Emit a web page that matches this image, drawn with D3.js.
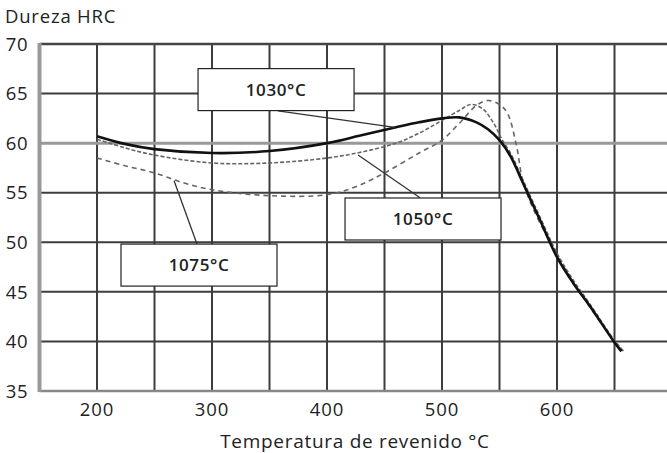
<!DOCTYPE html>
<html>
<head>
<meta charset="utf-8">
<script src="https://cdn.jsdelivr.net/npm/d3@7"></script>
<style>
  html, body { margin: 0; padding: 0; background: #fff; }
  svg { display: block; font-family: "Open Sans", "DejaVu Sans", sans-serif; }
</style>
</head>
<body>
<svg id="chart" width="667" height="453"></svg>
<script>
// temple curves: [temperature °C, HRC]
var curve1030 = [[200,60.7],[225,59.9],[250,59.4],[300,59.0],[350,59.2],[400,60.0],[430,60.8],[460,61.6],[480,62.1],[500,62.5],[515,62.6],[530,62.1],[540,61.4],[550,60.3],[560,58.6],[568,56.6],[577,54.3],[585,52.3],[600,48.5],[614,45.9],[629,43.5],[650,39.9],[656,39.0]];
var curve1050 = [[200,60.4],[225,59.5],[250,58.8],[300,58.0],[350,58.0],[400,58.5],[430,59.1],[460,60.0],[480,61.0],[500,62.3],[515,63.3],[525,63.9],[535,63.5],[545,62.0],[552,60.4],[560,58.9],[568,56.9],[577,54.6],[585,52.6],[600,48.9],[614,46.2],[629,43.7],[650,40.1],[658,39.0]];
var curve1075 = [[200,58.5],[225,57.7],[250,57.0],[275,56.0],[300,55.3],[350,54.7],[400,54.8],[425,55.6],[450,57.0],[480,59.0],[500,60.3],[515,62.0],[530,63.8],[540,64.3],[550,63.9],[557,63.0],[565,59.6],[570,56.3],[577,54.0],[585,52.0],[600,48.7],[614,46.0],[629,43.4],[650,40.0],[658,38.9]];

var xTicks = [200, 300, 400, 500, 600];
var yTicks = [35, 40, 45, 50, 55, 60, 65, 70];

// labels: text, box centre and leader line (in data units)
var labels = [
    { text: "1030°C", at: [355.7, 65.4], from: [357.4, 63.25], to: [459, 61.6] },
    { text: "1050°C", at: [483.5, 52.35], from: [480.9, 54.5], to: [427, 58.8] },
    { text: "1075°C", at: [288.7, 47.7], from: [287, 49.8], to: [267, 56.2] }
];

var svg = d3.select("#chart");

var x = d3.scaleLinear().domain([150, 700]).range([39.5, 672]);
var y = d3.scaleLinear().domain([35, 70]).range([391, 44]);

/* grid */
var grid = svg.append("g");
grid.selectAll("line.v")
    .data(d3.range(200, 701, 50))
    .enter().append("line")
    .attr("x1", function (d) { return x(d); })
    .attr("x2", function (d) { return x(d); })
    .attr("y1", y(70)).attr("y2", y(35))
    .attr("stroke", "#3d3d3d").attr("stroke-width", 2);

grid.selectAll("line.h")
    .data(d3.range(40, 70, 5))
    .enter().append("line")
    .attr("x1", x(150)).attr("x2", 667)
    .attr("y1", function (d) { return y(d); })
    .attr("y2", function (d) { return y(d); })
    .attr("stroke", function (d) { return d == 60 ? "#999" : "#3d3d3d"; })
    .attr("stroke-width", function (d) { return d == 60 ? 3 : 2; });

// frame
grid.append("line").attr("x1", x(150)).attr("x2", 667).attr("y1", y(70)).attr("y2", y(70))
    .attr("stroke", "#444").attr("stroke-width", 2.5);
grid.append("line").attr("x1", x(150)).attr("x2", 667).attr("y1", y(35)).attr("y2", y(35))
    .attr("stroke", "#888").attr("stroke-width", 2.5);
grid.append("line").attr("x1", x(150)).attr("x2", x(150)).attr("y1", y(70) - 1).attr("y2", y(35) + 1)
    .attr("stroke", "#999").attr("stroke-width", 4);

/* axes text */
svg.selectAll("text.ytick")
    .data(yTicks)
    .enter().append("text")
    .attr("x", 28)
    .attr("y", function (d) { return y(d); })
    .attr("dy", "0.36em")
    .attr("text-anchor", "end")
    .attr("font-size", 18.5)
    .attr("letter-spacing", 0.5)
    .attr("fill", "#222")
    .text(function (d) { return d; });

svg.selectAll("text.xtick")
    .data(xTicks)
    .enter().append("text")
    .attr("x", function (d) { return x(d); })
    .attr("y", 416)
    .attr("text-anchor", "middle")
    .attr("font-size", 18.5)
    .attr("letter-spacing", 1)
    .attr("fill", "#222")
    .text(function (d) { return d; });

svg.append("text").attr("x", 5).attr("y", 23)
    .attr("font-size", 18.5).attr("letter-spacing", 0.8).attr("fill", "#222")
    .text("Dureza HRC");

svg.append("text").attr("x", 355).attr("y", 448)
    .attr("text-anchor", "middle")
    .attr("font-size", 19).attr("letter-spacing", 0.7).attr("fill", "#222")
    .text("Temperatura de revenido °C");

/* curves */
var line = d3.line()
    .x(function (d) { return x(d[0]); })
    .y(function (d) { return y(d[1]); })
    .curve(d3.curveCatmullRom);

svg.append("path").datum(curve1075)
    .attr("d", line).attr("fill", "none")
    .attr("stroke", "#666").attr("stroke-width", 1.6)
    .attr("stroke-dasharray", "5,4");

svg.append("path").datum(curve1050)
    .attr("d", line).attr("fill", "none")
    .attr("stroke", "#666").attr("stroke-width", 1.6)
    .attr("stroke-dasharray", "4,2");

svg.append("path").datum(curve1030)
    .attr("d", line).attr("fill", "none")
    .attr("stroke", "#111").attr("stroke-width", 2.6);

/* labels */
var w = 156, h = 42;
var lab = svg.selectAll("g.lab").data(labels).enter().append("g");

lab.append("line")
    .attr("x1", function (d) { return x(d.from[0]); })
    .attr("y1", function (d) { return y(d.from[1]); })
    .attr("x2", function (d) { return x(d.to[0]); })
    .attr("y2", function (d) { return y(d.to[1]); })
    .attr("stroke", "#333").attr("stroke-width", 1.3);

lab.append("rect")
    .attr("x", function (d) { return x(d.at[0]) - w / 2; })
    .attr("y", function (d) { return y(d.at[1]) - h / 2; })
    .attr("width", w).attr("height", h)
    .attr("fill", "#fff").attr("stroke", "#222").attr("stroke-width", 1.2);

lab.append("text")
    .attr("x", function (d) { return x(d.at[0]); })
    .attr("y", function (d) { return y(d.at[1]); })
    .attr("dy", "0.36em")
    .attr("text-anchor", "middle")
    .attr("font-size", 17).attr("font-weight", 600)
    .attr("letter-spacing", 0.6)
    .attr("fill", "#222")
    .text(function (d) { return d.text; });
</script>
</body>
</html>
